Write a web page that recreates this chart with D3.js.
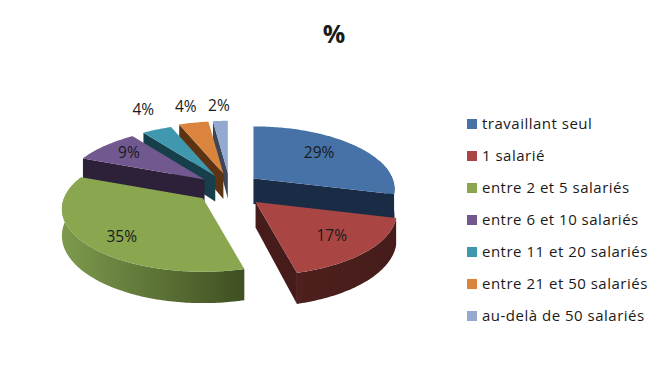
<!DOCTYPE html>
<html><head><meta charset="utf-8">
<script src="https://cdnjs.cloudflare.com/ajax/libs/d3/7.8.5/d3.min.js"></script>
<style>html,body{margin:0;background:#fff}svg{display:block}text{font-family:"Open Sans",sans-serif;fill:#1a1a1a}</style>
</head><body><div id="c"></div>
<script>
const title = "%";
const categories = ["travaillant seul","1 salarié","entre 2 et 5 salariés","entre 6 et 10 salariés","entre 11 et 20 salariés","entre 21 et 50 salariés","au-delà de 50 salariés"];
const values = [29,17,35,9,4,4,2];
const labels = ["29%","17%","35%","9%","4%","4%","2%"];
const topColors = ["#4672a8","#a94643","#8aa64e","#71588f","#4098af","#db843d","#93a9cf"];
const wallColors = ["#1a2c45","#451c1a","#3f4f22","#2d2139","#173e4b","#5c3413","#3c4658"];
const rimLight = ["#1a2c45","#4f201d","#7d9a4d","#2d2139","#173e4b","#5c3413","#3c4658"];
const drawOrder = [6,5,4,3,2,0,1];
const sliceShift = [[-4,-1],[1,0],[-1,-3],[2,0],[2,1],[2,0],[0,0]];
const labelShift = [[-8,-3],[-1,-2],[0,2],[-4,-3],[0,-4],[0,0],[0,1]];

const W=669,H=386, cx=230, cy=190, rx=139, ry=61, k=0.17, depth=26, explode=0.25;
const svg=d3.select("#c").append("svg").attr("width",W).attr("height",H);
const defs=svg.append("defs");
const arcs=d3.pie().sort(null).startAngle(0).endAngle(2*Math.PI)(values);

const proj=(a,f=1,fy=f)=>{const u=Math.sin(a),v=-Math.cos(a),w=1-k*v;return {x:rx*u*f/w,y:ry*v*fy/w,w};};
const baseApex=d=>{const m=(d.startAngle+d.endAngle)/2;return {x:cx+explode*rx*Math.sin(m),y:cy-(explode+0.03)*ry*Math.cos(m)};};
const apexOf=d=>{const b=baseApex(d),s=sliceShift[d.index];return {x:b.x+s[0],y:b.y+s[1]};};
const line=d3.line().x(p=>p[0]).y(p=>p[1]);
const rimPts=(d,a0,a1,drop)=>{
  const A=apexOf(d),n=Math.max(2,Math.ceil((a1-a0)*60));
  return d3.range(n+1).map(i=>{const a=a0+(a1-a0)*i/n,p=proj(a);return [A.x+p.x,A.y+p.y+(drop?depth/p.w:0)];});
};
const g=svg.append("g");
drawOrder.forEach(i=>{
  const d=arcs[i],A=apexOf(d),col=topColors[i],wall=wallColors[i];
  const sl=g.append("g");
  const a0=Math.max(d.startAngle,Math.PI*0.4),a1=Math.min(d.endAngle,Math.PI*1.62);
  if(a1>a0){
    const id="grad"+i,t=rimPts(d,a0,a1,false),b=rimPts(d,a0,a1,true);
    const xs=t.map(p=>p[0]);
    const gr=defs.append("linearGradient").attr("id",id).attr("gradientUnits","userSpaceOnUse")
      .attr("x1",d3.min(xs)).attr("x2",d3.max(xs)).attr("y1",0).attr("y2",0);
    gr.append("stop").attr("offset",0).attr("stop-color",rimLight[i]);
    gr.append("stop").attr("offset",1).attr("stop-color",wall);
    sl.append("path").attr("d",line(t.concat(b.reverse()))+"Z").attr("fill",`url(#${id})`);
  }
  [[d.startAngle,-1],[d.endAngle,1]].forEach(([a,s])=>{
    const p=proj(a);
    if(p.x*s>0 || (s<0 && Math.abs(p.x)<1)){
      sl.append("path").attr("fill",wall).attr("d",line([[A.x,A.y],[A.x+p.x,A.y+p.y],[A.x+p.x,A.y+p.y+depth/p.w],[A.x,A.y+depth*0.98]])+"Z");
    }
  });
  sl.append("path").attr("fill",col).attr("d",line([[A.x,A.y]].concat(rimPts(d,d.startAngle,d.endAngle,false)))+"Z");
});
arcs.forEach((d,i)=>{
  const A=baseApex(d),m=(d.startAngle+d.endAngle)/2,out=d.value<5;
  const p=proj(m,out?1.2:0.7,out?1.33:0.72),s=labelShift[i];
  svg.append("text").attr("x",A.x+p.x+s[0]).attr("y",A.y+p.y+s[1]).attr("text-anchor","middle").attr("dominant-baseline","central")
    .attr("font-size",15.5).text(labels[i]);
});
svg.append("text").attr("x",334).attr("y",33).attr("text-anchor","middle").attr("dominant-baseline","central")
  .attr("font-size",25).attr("font-weight",700).text(title);
const rows=d3.scalePoint().domain(categories).range([123,315]);
const lg=svg.selectAll("g.lg").data(categories).join("g").attr("class","lg").attr("transform",c=>`translate(467,${rows(c)})`);
lg.append("rect").attr("x",0).attr("y",-4).attr("width",10).attr("height",10).attr("fill",(c,i)=>topColors[i]);
lg.append("text").attr("x",15).attr("y",0).attr("dominant-baseline","central").attr("font-size",15).attr("letter-spacing",0.5).text(c=>c);
</script></body></html>
